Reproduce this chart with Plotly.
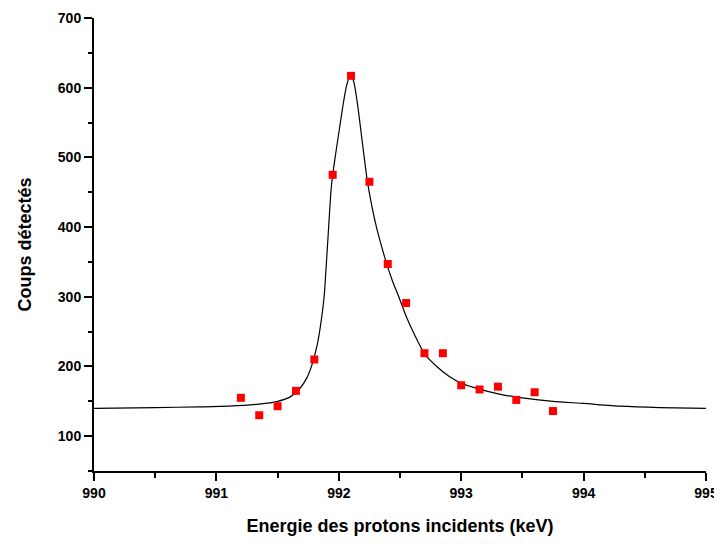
import plotly.graph_objects as go

# points mesurés
energie = [991.20, 991.35, 991.50, 991.65, 991.80, 991.95, 992.10, 992.25, 992.40,
           992.55, 992.70, 992.85, 993.00, 993.15, 993.30, 993.45, 993.60, 993.75]
coups = [155, 130, 143, 165, 210, 475, 617, 465, 347,
         291, 219, 219, 173, 167, 171, 152, 163, 136]

# courbe d'ajustement
fit_x = [990.0, 990.5, 990.86, 991.1, 991.35, 991.5, 991.6, 991.68, 991.74, 991.78,
         991.82, 991.85, 991.88, 991.91, 991.94, 991.97, 992.0, 992.03, 992.06, 992.09,
         992.12, 992.15, 992.19, 992.23, 992.27, 992.31, 992.35, 992.39, 992.44, 992.49,
         992.55, 992.62, 992.7, 992.8, 992.9, 993.0, 993.1, 993.2, 993.35, 993.5,
         993.75, 994.0, 994.3, 994.62, 995.0]
fit_y = [140, 141, 142, 143, 146, 150, 156, 168, 184, 202,
         228, 258, 300, 380, 460, 500, 535, 570, 600, 617,
         610, 580, 525, 470, 430, 398, 372, 348, 322, 300,
         272, 245, 218, 200, 186, 176, 170, 165, 159, 155,
         150, 147, 143, 141, 140]

fig = go.Figure()
fig.add_trace(go.Scatter(x=fit_x, y=fit_y, mode='lines', line_shape='spline',
                         line=dict(color='black', width=1.2, smoothing=0.6), showlegend=False))
fig.add_trace(go.Scatter(x=energie, y=coups, mode='markers',
                         marker=dict(symbol='square', size=8, color='#ff0000'),
                         showlegend=False))

police_ticks = dict(family='Liberation Sans, Arial', size=14, color='black', weight='bold')
police_titre = dict(family='Liberation Sans, Arial', size=18, color='black', weight='bold')

# la page ajoute une marge de 8 px autour de la figure
fig.update_layout(
    width=714, height=528,
    margin=dict(l=86, r=16, t=10, b=65),
    plot_bgcolor='white', paper_bgcolor='white',
)
fig.update_xaxes(
    range=[990, 995], dtick=1, showgrid=False, zeroline=False, automargin=False,
    showline=True, linecolor='black', linewidth=2,
    ticks='outside', ticklen=8, tickwidth=2, tickcolor='black',
    minor=dict(dtick=0.5, ticks='outside', ticklen=5, tickwidth=2, tickcolor='black'),
    tickfont=police_ticks, ticklabeloverflow='allow',
    title=dict(text='Energie des protons incidents (keV)', font=police_titre, standoff=22),
)
fig.update_yaxes(
    range=[50, 700], tick0=0, dtick=100, showgrid=False, zeroline=False, automargin=False,
    showline=True, linecolor='black', linewidth=2,
    ticks='outside', ticklen=8, tickwidth=2, tickcolor='black',
    minor=dict(dtick=50, tick0=0, ticks='outside', ticklen=4, tickwidth=2, tickcolor='black'),
    tickfont=police_ticks,
    title=dict(text='Coups détectés', font=police_titre, standoff=22),
)

fig.write_html("out.html", post_script="document.body.style.overflow='hidden';")
